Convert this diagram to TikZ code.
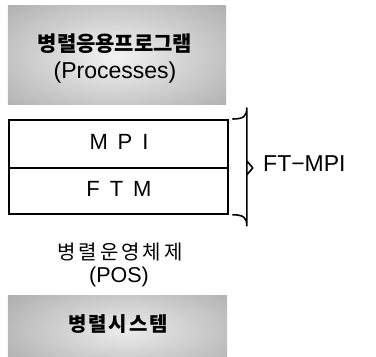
\documentclass[tikz,border=0pt]{standalone}
\usepackage{fontspec}
\setmainfont{Liberation Sans}
\newfontfamily\kr{Noto Sans CJK KR}
\begin{document}
\begin{tikzpicture}[x=1pt,y=-1pt,
  graybox/.style={inner sep=0pt, minimum width=219pt, anchor=north west},
  txt/.style={inner sep=0pt, anchor=base},
  layerbox/.style={draw, line width=1.8pt, minimum width=219pt, minimum height=94pt, inner sep=0pt, anchor=north west},
  layertxt/.style={inner sep=0pt, font=\fontsize{22}{23}\selectfont\addfontfeatures{LetterSpace=45}},
  bracepath/.style={line width=1.6pt, line cap=round, line join=round}]
\useasboundingbox (0,0) rectangle (376,357);
% top gray box
\begin{scope}
  \clip (8,5) rectangle (226,104);
  \shade[inner color=gray!10, outer color=gray!62] (115,56) ellipse (150 and 75);
\end{scope}
\node[graybox, minimum height=99pt] (procs) at (8,5) {};
\node[txt] (procsk) at (115,51) {\kr\bfseries\fontsize{21}{22}\selectfont 병렬응용프로그램};
\node[txt] (procse) at (115,78) {\fontsize{23}{24}\selectfont (Processes)};
% layer boxes
\node[layerbox] (stack) at (8,119) {};
\coordinate (midl) at ([yshift=-1pt]stack.west);
\coordinate (midr) at ([yshift=-1pt]stack.east);
\draw[line width=1.8pt] (midl) -- (midr);
\node[layertxt] (mpi) at (119,142) {MPI};
\node[layertxt] (ftm) at (119,189) {FTM};
% brace
\coordinate (bt) at ([xshift=4pt]stack.north east);
\coordinate (bb) at ([xshift=4pt]stack.south east);
\coordinate (bm) at ([xshift=24pt]midr);
\draw[bracepath] (bt) .. controls ([xshift=11pt]bt) and ([xshift=14pt,yshift=3pt]bt) .. ([xshift=14pt,yshift=11pt]bt)
  -- ([xshift=-6pt,yshift=-7pt]bm) -- (bm) -- ([xshift=-6pt,yshift=7pt]bm)
  -- ([xshift=14pt,yshift=-11pt]bb) .. controls ([xshift=14pt,yshift=-3pt]bb) and ([xshift=11pt]bb) .. (bb);
\node[anchor=west, inner sep=0pt] (ftmpi) at (263,164) {\fontsize{23}{24}\selectfont FT−MPI};
% POS
\node[txt] (posk) at (120,259) {\kr\fontsize{20}{22}\selectfont\addfontfeatures{LetterSpace=15}병렬운영체제};
\node[txt] (pose) at (119,282.5) {\fontsize{21.5}{24}\selectfont (POS)};
% bottom gray box
\begin{scope}
  \clip (8,295) rectangle (227,357);
  \shade[inner color=gray!15, outer color=gray!65] (125,330) ellipse (150 and 60);
\end{scope}
\node[graybox, minimum height=62pt] (sys) at (8,295) {};
\node[txt] (systxt) at (118,331) {\kr\bfseries\fontsize{20}{22}\selectfont\addfontfeatures{LetterSpace=10}병렬시스템};
\end{tikzpicture}
\end{document}
